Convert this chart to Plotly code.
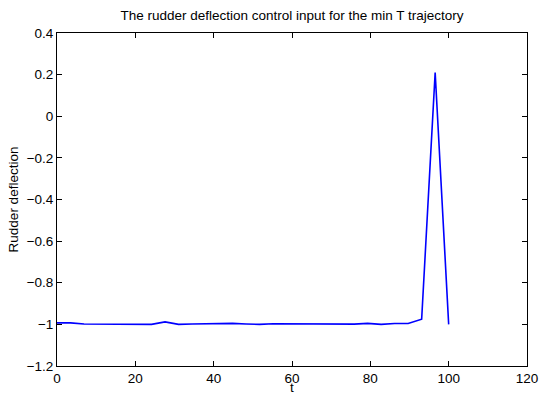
import plotly.graph_objects as go

n_points = 30
t_values = [i * 100 / 29 for i in range(n_points)]
rudder = [-0.993, -0.993, -0.998, -0.998, -0.999, -0.999, -0.998, -1.0, -0.988, -1.0,
          -0.998, -0.996, -0.994, -0.995, -0.998, -1.0, -0.997, -0.997, -0.999, -1.0,
          -0.999, -0.997, -0.999, -0.995, -1.0, -0.996, -0.996, -0.975, 0.21, -1.0]
x_ticks = [0, 20, 40, 60, 80, 100, 120]
y_ticks = [-1.2, -1.0, -0.8, -0.6, -0.4, -0.2, 0, 0.2, 0.4]
y_tick_text = ["\u22121.2", "\u22121", "\u22120.8", "\u22120.6", "\u22120.4", "\u22120.2", "0", "0.2", "0.4"]

font_family = "Liberation Sans, Arial, Helvetica, sans-serif"
fs = 13.5

fig = go.Figure()
fig.add_trace(go.Scatter(x=t_values, y=rudder, mode="lines",
                         line=dict(color="#0000ff", width=1.6), showlegend=False))

axis_common = dict(showline=True, linecolor="black", linewidth=1, mirror="ticks",
                   ticks="inside", ticklen=5, tickcolor="black", showgrid=False,
                   zeroline=False, automargin=False,
                   tickfont=dict(size=fs, color="black", family=font_family))

fig.update_layout(
    width=540, height=395,
    margin=dict(l=57, r=13, t=33, b=29),
    paper_bgcolor="white", plot_bgcolor="white",
    font=dict(family=font_family, color="black", size=fs),
    title=dict(text="The rudder deflection control input for the min T trajectory",
               x=0.5, xref="paper", y=1 - 15 / 395, yref="container",
               xanchor="center", yanchor="middle", font=dict(size=fs), automargin=False),
    xaxis=dict(range=[0, 120], tickvals=x_ticks, ticklabelstandoff=0,
               title=dict(text="t", standoff=2, font=dict(size=fs)), **axis_common),
    yaxis=dict(range=[-1.2, 0.4], tickvals=y_ticks, ticktext=y_tick_text, ticklabelstandoff=0,
               title=dict(text="Rudder deflection", standoff=4, font=dict(size=fs)), **axis_common),
)

fig.write_html("out.html")
